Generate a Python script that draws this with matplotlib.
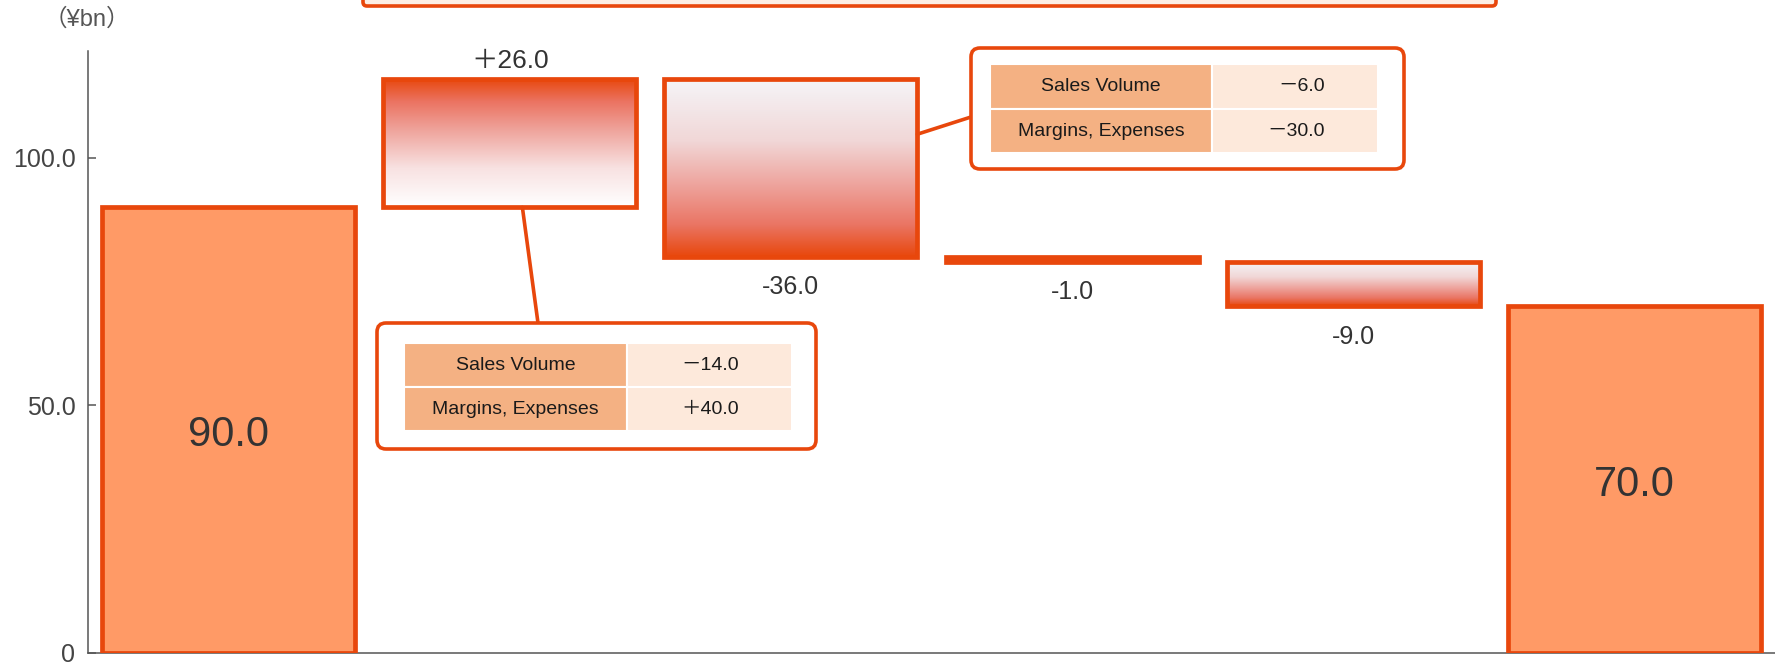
import matplotlib
matplotlib.use("Agg")
import matplotlib.pyplot as plt
import numpy as np
from matplotlib.colors import LinearSegmentedColormap
from matplotlib.patches import FancyBboxPatch, Rectangle, ConnectionPatch

plt.rcParams['font.family'] = ['Liberation Sans', 'Noto Sans CJK JP', 'DejaVu Sans']

# waterfall data (¥bn)
start_value = 90.0
deltas = [26.0, -36.0, -1.0, -9.0]
end_value = 70.0
delta_labels = ['＋26.0', '-36.0', '-1.0', '-9.0']

# breakdown tables for the first two steps
table_rows = ['Sales Volume', 'Margins, Expenses']
table1_vals = ['－14.0', '＋40.0']
table2_vals = ['－6.0', '－30.0']

RED = '#E8470C'
TOTAL = '#FF9A66'
COL1 = '#F4B183'
COL2 = '#FDE9DB'

W, H = 1775, 666
fig = plt.figure(figsize=(W / 100, H / 100), dpi=100)
ax = fig.add_axes([88 / W, 13 / H, 1687 / W, 602 / H])

n = len(deltas) + 2
xs = np.arange(n)
bottoms = []
level = start_value
for d in deltas:
    bottoms.append(level if d > 0 else level + d)
    level += d

bw = 0.9
lw = 3.4

# totals
ax.bar([0, n - 1], [start_value, end_value], width=bw, color=TOTAL,
       edgecolor=RED, linewidth=lw, zorder=3)
for x, v in [(0, start_value), (n - 1, end_value)]:
    ax.text(x, v / 2 - 1, f'{v:.1f}', ha='center', va='center', fontsize=30,
            color='#333333', zorder=4)

# gradient steps
cmap_up = LinearSegmentedColormap.from_list('up', [(0, '#FFFFFF'), (0.3, '#F8E2E2'),
                                                   (0.6, '#EFA39B'), (0.82, '#EB7361'),
                                                   (1, RED)])
cmap_down = LinearSegmentedColormap.from_list('down', [(0, '#F5F5F8'), (0.35, '#F1D7D7'),
                                                       (0.6, '#EEA39C'), (0.82, '#EA7564'),
                                                       (1, RED)])
grad = np.linspace(0, 1, 256).reshape(-1, 1)
bars = ax.bar(xs[1:-1], [abs(d) for d in deltas], bottom=bottoms, width=bw,
              facecolor='none', edgecolor=RED, linewidth=lw, zorder=3)
for i, (p, d) in enumerate(zip(bars.patches, deltas)):
    x = xs[1 + i]
    b = bottoms[i]
    g = grad if d > 0 else grad[::-1]
    im = ax.imshow(g, extent=[x - bw / 2, x + bw / 2, b, b + abs(d)], origin='lower',
                   cmap=cmap_up if d > 0 else cmap_down, aspect='auto', zorder=2,
                   interpolation='bilinear')
    im.set_clip_path(p)
    if abs(d) < 2:
        p.set_facecolor(RED)
    if d > 0:
        ax.annotate(delta_labels[i], (x, b + d), xytext=(0, 8), textcoords='offset points',
                    ha='center', va='baseline', fontsize=19, color='#333333')
    else:
        ax.annotate(delta_labels[i], (x, b), xytext=(0, -27), textcoords='offset points',
                    ha='center', va='baseline', fontsize=18, color='#333333')

ax.set_xlim(-0.5, n - 0.5)
ax.set_ylim(0, 121.6)
ax.set_xticks([])
ax.set_yticks([0, 50, 100])
ax.set_yticklabels(['0', '50.0', '100.0'])
ax.tick_params(axis='y', direction='in', length=6, width=1.1, color='#555555',
               labelsize=18, labelcolor='#444444', pad=9)
for s in ['top', 'right']:
    ax.spines[s].set_visible(False)
for s in ['left', 'bottom']:
    ax.spines[s].set_color('#555555')
    ax.spines[s].set_linewidth(1.1)
ax.patch.set_alpha(0)

fig.text(87 / W, 1 - 20 / H, '（¥bn）', ha='center', va='center', fontsize=17,
         color='#555555')

# overlay in pixel coordinates for callouts
ov = fig.add_axes([0, 0, 1, 1])
ov.set_xlim(0, W)
ov.set_ylim(H, 0)
ov.axis('off')
ov.patch.set_alpha(0)

# cut-off header box at the top
ov.add_patch(FancyBboxPatch((363, -40), 1133, 46, boxstyle='round,pad=0,rounding_size=4',
                            facecolor='#FDEEE4', edgecolor=RED, linewidth=2.6, zorder=5))


def callout(box, table, split, rowsplit, vals, anchor_data, anchor_px):
    con = ConnectionPatch(xyA=anchor_data, coordsA=ax.transData, xyB=anchor_px,
                          coordsB=ov.transData, color=RED, linewidth=2.6, zorder=4)
    ov.add_artist(con)
    x0, y0, x1, y1 = box
    ov.add_patch(FancyBboxPatch((x0, y0), x1 - x0, y1 - y0,
                                boxstyle='round,pad=0,rounding_size=9',
                                facecolor='white', edgecolor=RED, linewidth=2.6, zorder=5))
    tx0, ty0, tx1, ty1 = table
    rows_y = [(ty0, rowsplit), (rowsplit, ty1)]
    for (ra, rb), name, val in zip(rows_y, table_rows, vals):
        ov.add_patch(Rectangle((tx0, ra), split - tx0, rb - ra, facecolor=COL1,
                               edgecolor='white', linewidth=1.5, zorder=6))
        ov.add_patch(Rectangle((split, ra), tx1 - split, rb - ra, facecolor=COL2,
                               edgecolor='white', linewidth=1.5, zorder=6))
        ov.text((tx0 + split) / 2, (ra + rb) / 2, name, ha='center', va='center',
                fontsize=14, color='#1a1a1a', zorder=7)
        ov.text(tx1 - 53, (ra + rb) / 2, val, ha='right', va='center',
                fontsize=14, color='#1a1a1a', zorder=7)


callout((377, 323, 816, 449), (404, 343, 792, 431), 627, 387, table1_vals,
        (1.045, bottoms[0]), (538, 323))
callout((971, 48, 1404, 169), (990, 64, 1378, 153), 1212, 109, table2_vals,
        (2 + bw / 2, 104.8), (971, 117))

fig.savefig('out.png', dpi=100)
